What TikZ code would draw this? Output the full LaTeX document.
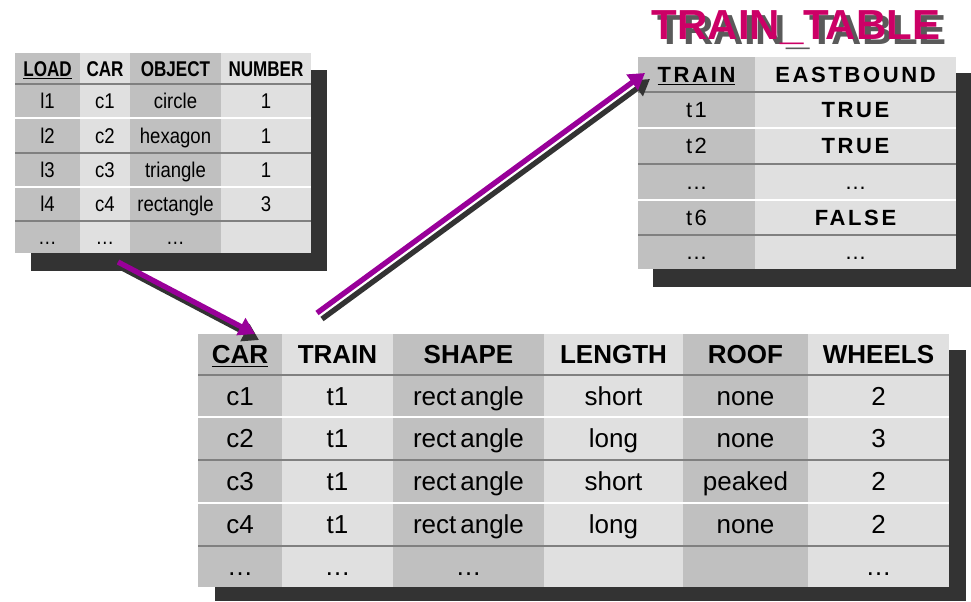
\documentclass[tikz,border=0pt]{standalone}
\usepackage{fontspec}
\setsansfont{Liberation Sans}
\newfontfamily\narrowsans[FakeStretch=0.87]{Liberation Sans}
\newfontfamily\narrowbold[FakeStretch=0.8]{Liberation Sans Bold}
\newfontfamily\widesans[LetterSpace=12]{Liberation Sans}
\usetikzlibrary{arrows.meta}
\definecolor{bandDark}{HTML}{C0C0C0}
\definecolor{bandLight}{HTML}{E0E0E0}
\definecolor{rowGray}{HTML}{808080}
\definecolor{shadowGray}{HTML}{333333}
\definecolor{arrowPurple}{HTML}{990099}
\definecolor{titleRed}{HTML}{CC0066}
\definecolor{titleShade}{HTML}{5A5A5A}

\begin{document}
\begin{tikzpicture}[x=0.75pt,y=-0.75pt,
  cell/.style={inner sep=0pt, text depth=0pt},
  loadcell/.style={cell, text height=11.5pt, font=\narrowsans\fontsize{16}{18}\selectfont},
  loadhead/.style={cell, text height=11.5pt, font=\narrowbold\fontsize{16}{18}\selectfont},
  carcell/.style={cell, text height=14pt, font=\sffamily\fontsize{19.5}{22}\selectfont},
  carhead/.style={cell, text height=14pt, font=\sffamily\bfseries\fontsize{19.5}{22}\selectfont},
  traincell/.style={cell, text height=11.9pt, font=\widesans\fontsize{16.5}{19}\selectfont},
  trainhead/.style={cell, text height=11.9pt, font=\widesans\bfseries\fontsize{16.5}{19}\selectfont},
  titletext/.style={cell, text height=22.6pt, font=\sffamily\bfseries\fontsize{31.5}{36}\selectfont},
  sepdark/.style={draw=rowGray, line width=1.6pt},
  seplight/.style={draw=white, line width=1.6pt},
  dropshadow/.style={fill=shadowGray},
  linkarrow/.style={draw=arrowPurple, line width=4pt, -{Triangle[length=12pt,width=14pt]}},
  linkshadow/.style={linkarrow, draw=shadowGray}]
\useasboundingbox (0,0) rectangle (971,601);

% shadows
\fill[dropshadow] (31,70) rectangle (327,271);
\fill[dropshadow] (653,73) rectangle (971,287);
\fill[dropshadow] (215,350) rectangle (966,601);

% LOAD_TABLE
\fill[bandDark] (15,53) rectangle (80,253);
\fill[bandLight] (80,53) rectangle (130,253);
\fill[bandDark] (130,53) rectangle (221,253);
\fill[bandLight] (221,53) rectangle (311,253);
\draw[sepdark] (15,84) -- (311,84);
\draw[seplight] (15,118) -- (311,118);
\draw[sepdark] (15,153) -- (311,153);
\draw[seplight] (15,187) -- (311,187);
\draw[sepdark] (15,221) -- (311,221);
\node[loadhead] (lhLoad) at (47.5,68.5) {\underline{LOAD}};
\node[loadhead] (lhCar) at (105,68.5) {CAR};
\node[loadhead] (lhObject) at (175.5,68.5) {OBJECT};
\node[loadhead] (lhNumber) at (266,68.5) {NUMBER};
\node[loadcell] (lLoad1) at (47.5,101) {l1};
\node[loadcell] (lCar1) at (105,101) {c1};
\node[loadcell] (lObject1) at (175.5,101) {circle};
\node[loadcell] (lNumber1) at (266,101) {1};
\node[loadcell] (lLoad2) at (47.5,135.5) {l2};
\node[loadcell] (lCar2) at (105,135.5) {c2};
\node[loadcell] (lObject2) at (175.5,135.5) {hexagon};
\node[loadcell] (lNumber2) at (266,135.5) {1};
\node[loadcell] (lLoad3) at (47.5,170) {l3};
\node[loadcell] (lCar3) at (105,170) {c3};
\node[loadcell] (lObject3) at (175.5,170) {triangle};
\node[loadcell] (lNumber3) at (266,170) {1};
\node[loadcell] (lLoad4) at (47.5,204) {l4};
\node[loadcell] (lCar4) at (105,204) {c4};
\node[loadcell] (lObject4) at (175.5,204) {rectangle};
\node[loadcell] (lNumber4) at (266,204) {3};
\node[loadcell] (lLoad5) at (47.5,237) {…};
\node[loadcell] (lCar5) at (105,237) {…};
\node[loadcell] (lObject5) at (175.5,237) {…};

% TRAIN_TABLE
\node[titletext, text=titleShade] (titleShadow) at (802,29) {TRAIN\_TABLE};
\node[titletext, text=titleRed] (title) at (796,24) {TRAIN\_TABLE};
\fill[bandDark] (638,57) rectangle (755,269);
\fill[bandLight] (755,57) rectangle (956,269);
\draw[sepdark] (638,92) -- (956,92);
\draw[seplight] (638,128) -- (956,128);
\draw[sepdark] (638,164) -- (956,164);
\draw[seplight] (638,200) -- (956,200);
\draw[sepdark] (638,235) -- (956,235);
\node[trainhead] (thTrain) at (696.5,74.5) {\underline{TRAIN}};
\node[trainhead] (thEast) at (855.5,74.5) {EASTBOUND};
\node[traincell] (tTrain1) at (696.5,110) {t1};
\node[trainhead] (tEast1) at (855.5,110) {TRUE};
\node[traincell] (tTrain2) at (696.5,146) {t2};
\node[trainhead] (tEast2) at (855.5,146) {TRUE};
\node[traincell] (tTrain3) at (696.5,182) {…};
\node[traincell] (tEast3) at (855.5,182) {…};
\node[traincell] (tTrain4) at (696.5,217.5) {t6};
\node[trainhead] (tEast4) at (855.5,217.5) {FALSE};
\node[traincell] (tTrain5) at (696.5,252) {…};
\node[traincell] (tEast5) at (855.5,252) {…};

% CAR_TABLE
\fill[bandDark] (198,334) rectangle (282,587);
\fill[bandLight] (282,334) rectangle (393,587);
\fill[bandDark] (393,334) rectangle (544,587);
\fill[bandLight] (544,334) rectangle (683,587);
\fill[bandDark] (683,334) rectangle (808,587);
\fill[bandLight] (808,334) rectangle (949,587);
\draw[sepdark] (198,375) -- (949,375);
\draw[seplight] (198,417) -- (949,417);
\draw[sepdark] (198,460) -- (949,460);
\draw[seplight] (198,503) -- (949,503);
\draw[sepdark] (198,546) -- (949,546);
\node[carhead] (chCar) at (240,354.5) {\underline{CAR}};
\node[carhead] (chTrain) at (337.5,354.5) {TRAIN};
\node[carhead] (chShape) at (468.5,354.5) {SHAPE};
\node[carhead] (chLength) at (613.5,354.5) {LENGTH};
\node[carhead] (chRoof) at (745.5,354.5) {ROOF};
\node[carhead] (chWheels) at (878.5,354.5) {WHEELS};
\node[carcell] (cCar1) at (240,396) {c1};
\node[carcell] (cTrain1) at (337.5,396) {t1};
\node[carcell] (cShape1) at (468.5,396) {rect\kern3pt angle};
\node[carcell] (cLength1) at (613.5,396) {short};
\node[carcell] (cRoof1) at (745.5,396) {none};
\node[carcell] (cWheels1) at (878.5,396) {2};
\node[carcell] (cCar2) at (240,438.5) {c2};
\node[carcell] (cTrain2) at (337.5,438.5) {t1};
\node[carcell] (cShape2) at (468.5,438.5) {rect\kern3pt angle};
\node[carcell] (cLength2) at (613.5,438.5) {long};
\node[carcell] (cRoof2) at (745.5,438.5) {none};
\node[carcell] (cWheels2) at (878.5,438.5) {3};
\node[carcell] (cCar3) at (240,481.5) {c3};
\node[carcell] (cTrain3) at (337.5,481.5) {t1};
\node[carcell] (cShape3) at (468.5,481.5) {rect\kern3pt angle};
\node[carcell] (cLength3) at (613.5,481.5) {short};
\node[carcell] (cRoof3) at (745.5,481.5) {peaked};
\node[carcell] (cWheels3) at (878.5,481.5) {2};
\node[carcell] (cCar4) at (240,524.5) {c4};
\node[carcell] (cTrain4) at (337.5,524.5) {t1};
\node[carcell] (cShape4) at (468.5,524.5) {rect\kern3pt angle};
\node[carcell] (cLength4) at (613.5,524.5) {long};
\node[carcell] (cRoof4) at (745.5,524.5) {none};
\node[carcell] (cWheels4) at (878.5,524.5) {2};
\node[carcell] (cCar5) at (240,566.5) {…};
\node[carcell] (cTrain5) at (337.5,566.5) {…};
\node[carcell] (cShape5) at (468.5,566.5) {…};
\node[carcell] (cWheels5) at (878.5,566.5) {…};

% arrows
\coordinate (loadOut) at (118,262);
\coordinate (carIn) at (255,334);
\coordinate (carOut) at (317,313);
\coordinate (trainIn) at (645,73);
\draw[linkshadow] ([shift={(4,6)}]loadOut) -- ([shift={(4,6)}]carIn);
\draw[linkarrow] (loadOut) -- (carIn);
\draw[linkshadow] ([shift={(5,6)}]carOut) -- ([shift={(5,6)}]trainIn);
\draw[linkarrow] (carOut) -- (trainIn);
\end{tikzpicture}
\end{document}
